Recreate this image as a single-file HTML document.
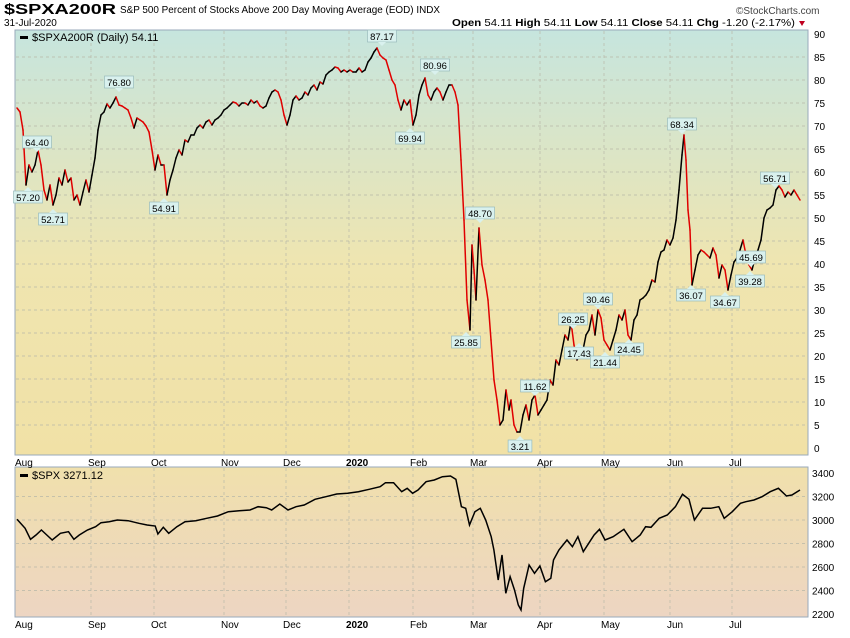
<!DOCTYPE html>
<html><head><meta charset="utf-8"><style>
body{margin:0;background:#fff;width:850px;height:633px;overflow:hidden;font-family:"Liberation Sans",sans-serif}
svg text{font-family:"Liberation Sans",sans-serif}
</style></head><body>
<svg id="s" width="850" height="633" xmlns="http://www.w3.org/2000/svg">
<defs>
<linearGradient id="g1" x1="0" y1="0" x2="0" y2="1"><stop offset="0" stop-color="#c6e5de"/><stop offset="0.55" stop-color="#efe5b0"/><stop offset="1" stop-color="#f1e1a6"/></linearGradient>
<linearGradient id="g2" x1="0" y1="0" x2="0" y2="1"><stop offset="0" stop-color="#f0e0ac"/><stop offset="1" stop-color="#edd5c2"/></linearGradient>
</defs>
<text x="4" y="14" font-size="15" font-weight="bold" textLength="112" lengthAdjust="spacingAndGlyphs">$SPXA200R</text>
<text x="120" y="13" font-size="10.5" textLength="320" lengthAdjust="spacingAndGlyphs">S&amp;P 500 Percent of Stocks Above 200 Day Moving Average (EOD) INDX</text>
<text x="736" y="14" font-size="10" fill="#444">©StockCharts.com</text>
<text x="4" y="26" font-size="10">31-Jul-2020</text>
<text x="452" y="26" font-size="10.5" textLength="343" lengthAdjust="spacingAndGlyphs"><tspan font-weight="bold">Open</tspan> 54.11 <tspan font-weight="bold">High</tspan> 54.11 <tspan font-weight="bold">Low</tspan> 54.11 <tspan font-weight="bold">Close</tspan> 54.11 <tspan font-weight="bold">Chg</tspan> -1.20 (-2.17%)</text>
<polygon points="799,21 805,21 802,26" fill="#c00020"/>
<rect x="15" y="30" width="793" height="425" fill="url(#g1)" stroke="#9ab" stroke-width="1"/>
<rect x="15" y="467" width="793" height="150" fill="url(#g2)" stroke="#9ab" stroke-width="1"/>
<g id="grid" stroke="#b8b8a8" stroke-dasharray="3,3" stroke-width="0.7"></g>
<g id="lab" font-size="10"></g>
<g id="ser"></g>
<g id="box" font-size="9.5"></g>
<rect x="20" y="36" width="8" height="3" fill="#000"/>
<text x="32" y="41" font-size="11">$SPXA200R (Daily) 54.11</text>
<rect x="20" y="474" width="8" height="3" fill="#000"/>
<text x="32" y="479" font-size="11">$SPX 3271.12</text>
</svg>
<script>
const NS="http://www.w3.org/2000/svg";
function el(p,t,a,txt){const e=document.createElementNS(NS,t);for(const k in a)e.setAttribute(k,a[k]);if(txt!=null)e.textContent=txt;document.getElementById(p).appendChild(e);return e;}
const mx=[[18,"Aug"],[91,"Sep"],[154,"Oct"],[224,"Nov"],[286,"Dec"],[349,"2020"],[413,"Feb"],[473,"Mar"],[540,"Apr"],[604,"May"],[670,"Jun"],[732,"Jul"]];
mx.forEach(([x,t])=>{
 if(x>20){el("grid","line",{x1:x,y1:31,x2:x,y2:454});el("grid","line",{x1:x,y1:468,x2:x,y2:616});}
 [466,628].forEach(y=>{const e=el("lab","text",{x:x-3,y:y},t);if(t=="2020")e.setAttribute("font-weight","bold");});
});
for(let v=0;v<=90;v+=5){const y=448-v*4.6;if(v>0&&v<90)el("grid","line",{x1:16,y1:y,x2:807,y2:y});el("lab","text",{x:814,y:y+4},String(v));}
for(let v=2200;v<=3400;v+=200){const y=473+(3400-v)*0.1175;if(v>2200&&v<3400)el("grid","line",{x1:16,y1:y,x2:807,y2:y});el("lab","text",{x:812,y:y+4},String(v));}
const p=[[17,108],[20,112],[23,130],[26,185],[29,165],[32,172],[35,165],[38,150],[41,165],[44,190],[47,200],[50,185],[53,205],[56,195],[59,178],[62,185],[65,170],[68,182],[71,178],[74,200],[77,195],[80,205],[83,192],[86,180],[89,192],[92,175],[95,158],[98,130],[101,115],[104,112],[107,104],[110,108],[113,103],[116,97],[119,105],[122,106],[125,108],[128,110],[131,118],[134,128],[137,118],[140,120],[143,122],[146,126],[149,132],[152,150],[155,170],[158,155],[161,165],[164,165],[167,195],[170,180],[173,170],[176,158],[179,150],[182,155],[185,140],[188,142],[191,135],[194,135],[197,128],[200,125],[203,128],[206,122],[209,120],[212,125],[215,120],[218,118],[221,115],[224,110],[227,108],[230,105],[233,102],[236,103],[239,106],[242,103],[245,103],[248,105],[251,100],[254,103],[257,101],[260,106],[263,108],[266,106],[269,98],[272,92],[275,90],[278,92],[281,100],[284,115],[287,125],[290,115],[293,100],[296,96],[299,100],[302,98],[305,92],[308,95],[311,88],[314,85],[317,90],[320,82],[323,84],[326,75],[329,72],[332,70],[335,67],[338,68],[341,72],[344,70],[347,72],[350,70],[353,72],[356,72],[359,68],[362,72],[365,70],[368,62],[371,58],[374,52],[377,48],[380,55],[383,58],[386,60],[389,70],[392,80],[395,85],[398,100],[401,110],[404,100],[407,105],[410,100],[413,125],[416,115],[419,95],[422,85],[425,78],[428,95],[431,100],[434,92],[437,88],[440,92],[443,100],[446,92],[449,85],[452,85],[455,92],[458,105],[461,160],[464,220],[467,300],[470,330],[472,245],[474,270],[476,300],[479,228],[482,265],[485,280],[488,300],[491,340],[494,380],[497,400],[500,425],[503,420],[506,390],[509,410],[511,400],[514,425],[517,432],[520,432],[523,415],[526,405],[529,420],[532,400],[535,395],[538,415],[541,410],[544,405],[547,400],[550,380],[553,385],[556,360],[559,365],[562,350],[565,335],[568,340],[571,322],[574,345],[577,360],[580,355],[583,350],[586,335],[589,330],[592,315],[595,335],[598,310],[601,318],[604,340],[607,345],[610,350],[613,340],[616,330],[619,315],[622,320],[625,310],[628,335],[631,340],[634,320],[637,315],[640,300],[643,298],[646,295],[649,290],[652,280],[655,282],[658,262],[661,252],[664,250],[667,240],[670,245],[673,238],[676,220],[679,190],[682,155],[684,135],[686,160],[688,210],[690,230],[692,285],[695,270],[698,255],[701,250],[704,252],[707,255],[710,258],[713,248],[716,255],[719,278],[722,265],[725,270],[728,290],[731,275],[734,262],[737,258],[740,250],[743,240],[746,255],[749,265],[752,270],[755,258],[758,250],[761,240],[764,218],[767,210],[770,208],[773,205],[776,190],[779,186],[782,190],[785,197],[788,192],[791,195],[794,190],[797,195],[800,200]];
for(let i=1;i<p.length;i++){el("ser","line",{x1:p[i-1][0],y1:p[i-1][1],x2:p[i][0],y2:p[i][1],stroke:p[i][1]>p[i-1][1]?"#e00000":"#000","stroke-width":1.5,"stroke-linecap":"round"});}
const z=[[30,238],[45,265],[55,298],[65,285],[75,270],[85,285],[95,300],[110,280],[125,275],[135,298],[145,285],[160,270],[175,260],[185,248],[200,245],[215,240],[235,242],[255,250],[270,255],[285,258],[290,282],[300,262],[310,280],[325,260],[340,245],[360,242],[380,235],[400,228],[420,215],[440,212],[460,210],[475,200],[490,203],[500,210],[515,192],[530,210],[545,200],[560,195],[580,178],[600,170],[620,162],[640,160],[660,155],[680,148],[700,140],[710,128],[725,128],[740,155],[750,145],[760,160],[770,150],[785,125],[800,120],[815,110],[830,108],[840,118],[850,200],[858,205],[865,255],[875,215],[885,205],[895,240],[905,290],[910,330],[918,420],[925,345],[932,460],[940,410],[948,450],[955,495],[960,510],[965,445],[975,375],[985,400],[995,378],[1005,425],[1015,415],[1020,360],[1030,330],[1045,300],[1055,320],[1065,290],[1075,335],[1085,310],[1095,285],[1105,268],[1115,300],[1130,290],[1150,268],[1165,305],[1180,285],[1190,260],[1200,262],[1215,235],[1230,225],[1245,200],[1258,163],[1270,178],[1280,240],[1295,205],[1310,205],[1325,200],[1335,235],[1350,215],[1365,190],[1375,185],[1390,180],[1405,170],[1420,155],[1435,145],[1450,168],[1460,165],[1475,150]];
el("ser","polyline",{points:z.map(a=>(17+(a[0]-30)*0.5419).toFixed(1)+","+(440+a[1]/3).toFixed(1)).join(" "),fill:"none",stroke:"#000","stroke-width":1.5});
const L=[["64.40",37,142,0],["57.20",28,197,1],["52.71",53,219,1],["76.80",119,82,0],["54.91",164,208,1],["87.17",382,36,0],["80.96",435,65,0],["69.94",410,138,1],["48.70",480,213,0],["25.85",466,342,1],["11.62",535,386,0],["3.21",520,446,1],["26.25",573,319,0],["17.43",579,353,1],["30.46",598,299,0],["21.44",605,362,1],["24.45",629,349,1],["68.34",682,124,0],["36.07",691,295,1],["34.67",725,302,1],["45.69",751,257,0],["39.28",750,281,1],["56.71",775,178,0]];
L.forEach(([t,x,y,b])=>{const w=t.length*5.2+3;el("box","rect",{x:x-w/2,y:y-6,width:w,height:12,fill:"#d9f1ee",stroke:"#9bb","stroke-width":0.7});
 const ty=b?y-6:y+6, tp=b?y-10:y+10;el("box","polygon",{points:`${x-4},${ty} ${x+4},${ty} ${x},${tp}`,fill:"#d9f1ee"});
 el("box","text",{x:x,y:y+4,"text-anchor":"middle"},t);});
</script>
</body></html>
